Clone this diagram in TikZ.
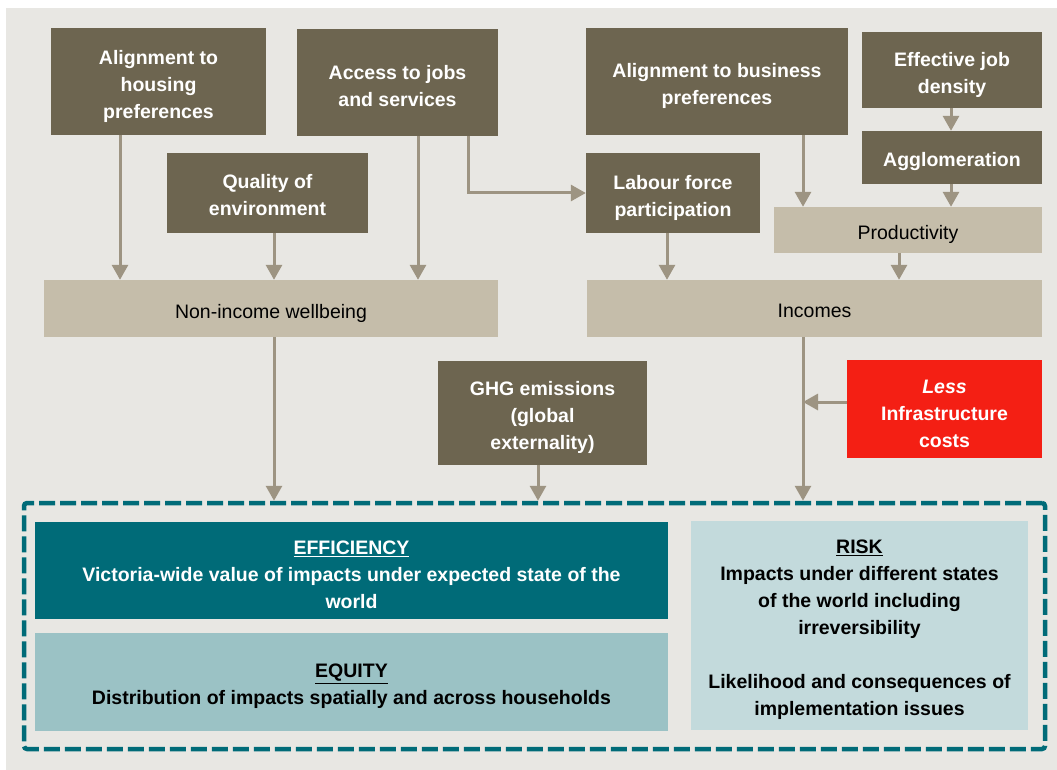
\documentclass[tikz,border=0pt]{standalone}
\usepackage{fontspec}
\setmainfont{Liberation Sans}
\usetikzlibrary{arrows.meta}

\definecolor{bgcol}{HTML}{E8E7E3}
\definecolor{darkbox}{HTML}{6D6550}
\definecolor{lightbox}{HTML}{C5BDAA}
\definecolor{arrowcol}{HTML}{9D9482}
\definecolor{redbox}{HTML}{F41F14}
\definecolor{tealcol}{HTML}{006B78}
\definecolor{equitycol}{HTML}{9BC2C5}
\definecolor{riskcol}{HTML}{C3DADC}

\tikzset{
  % box shapes
  boxbase/.style={inner sep=0pt},
  darknode/.style={boxbase, fill=darkbox},
  lightnode/.style={boxbase, fill=lightbox},
  rednode/.style={boxbase, fill=redbox},
  effnode/.style={boxbase, fill=tealcol},
  eqnode/.style={boxbase, fill=equitycol},
  risknode/.style={boxbase, fill=riskcol},
  % box captions, set a little below the geometric centre
  txt/.style={inner sep=0pt, align=center, yshift=-4.5pt},
  whitebold/.style={txt, text=white, font=\fontsize{19.5}{27}\selectfont\bfseries},
  blackbold/.style={txt, text=black, font=\fontsize{19.5}{27}\selectfont\bfseries},
  blackplain/.style={txt, text=black, font=\fontsize{19.5}{27}\selectfont},
  framenode/.style={draw=tealcol, line width=4.5pt, dash pattern=on 16pt off 5pt, rounded corners=3pt, inner sep=0pt},
  arr/.style={draw=arrowcol, line width=3pt, -{Triangle[width=16pt,length=15pt]}, arrowcol},
}

\begin{document}
\begin{tikzpicture}[x=1pt, y=-1pt]
  \useasboundingbox (0,0) rectangle (1057,770);
  \fill[bgcol] (6,8) rectangle (1057,770);

  % upper drivers
  \node[darknode, minimum width=215pt, minimum height=107pt,
        label={[whitebold]center:{Alignment to\\housing\\preferences}}] (housing) at (158.5,81.5) {};
  \node[darknode, minimum width=201pt, minimum height=107pt,
        label={[whitebold, yshift=1pt]center:{Access to jobs\\and services}}] (access) at (397.5,82.5) {};
  \node[darknode, minimum width=201pt, minimum height=80pt,
        label={[whitebold, yshift=2.5pt]center:{Quality of\\environment}}] (quality) at (267.5,193) {};
  \node[darknode, minimum width=262pt, minimum height=107pt,
        label={[whitebold]center:{Alignment to business\\preferences}}] (business) at (717,81.5) {};
  \node[darknode, minimum width=180pt, minimum height=76pt,
        label={[whitebold]center:{Effective job\\density}}] (density) at (952,70) {};
  \node[darknode, minimum width=180pt, minimum height=53pt,
        label={[whitebold]center:{Agglomeration}}] (agglom) at (952,157.5) {};
  \node[darknode, minimum width=174pt, minimum height=80pt,
        label={[whitebold]center:{Labour force\\participation}}] (labour) at (673,193) {};

  % intermediate outcomes
  \node[lightnode, minimum width=268pt, minimum height=46pt,
        label={[blackplain]center:{Productivity}}] (productivity) at (908,230) {};
  \node[lightnode, minimum width=454pt, minimum height=57pt,
        label={[blackplain]center:{Non-income wellbeing}}] (nonincome) at (271,308.5) {};
  \node[lightnode, minimum width=455pt, minimum height=57pt,
        label={[blackplain, yshift=2.5pt]center:{Incomes}}] (incomes) at (814.5,308.5) {};

  % other impacts
  \node[darknode, minimum width=209pt, minimum height=104pt,
        label={[whitebold]center:{GHG emissions\\(global\\externality)}}] (ghg) at (542.5,413) {};
  \node[rednode, minimum width=195pt, minimum height=98pt,
        label={[whitebold]center:{\textit{Less}\\Infrastructure\\costs}}] (less) at (944.5,409) {};

  % assessment criteria
  \node[framenode, minimum width=1021pt, minimum height=246pt] (frame) at (534.5,626) {};
  \node[effnode, minimum width=633pt, minimum height=97pt,
        label={[whitebold]center:{\underline{EFFICIENCY}\\Victoria-wide value of impacts under expected state of the\\world}}] (efficiency) at (351.5,570.5) {};
  \node[eqnode, minimum width=633pt, minimum height=98pt,
        label={[blackbold]center:{\underline{EQUITY}\\Distribution of impacts spatially and across households}}] (equity) at (351.5,682) {};
  \node[risknode, minimum width=337pt, minimum height=209pt,
        label={[blackbold]center:{\underline{RISK}\\Impacts under different states\\of the world including\\irreversibility\\[27pt]Likelihood and consequences of\\implementation issues}}] (risk) at (859.5,625.5) {};

  % connector columns
  \coordinate (c120) at (120,0);
  \coordinate (c274) at (274,0);
  \coordinate (c418) at (418,0);
  \coordinate (c468) at (468,0);
  \coordinate (c538) at (538,0);
  \coordinate (c667) at (667,0);
  \coordinate (c803) at (803,0);
  \coordinate (c899) at (899,0);
  \coordinate (c951) at (951,0);
  \coordinate (r402) at (0,402);

  % connectors
  \draw[arr] (housing.south -| c120) -- (nonincome.north -| c120);
  \draw[arr] (quality.south -| c274) -- (nonincome.north -| c274);
  \draw[arr] (access.south -| c418) -- (nonincome.north -| c418);
  \draw[arr] (access.south -| c468) |- (labour.west);
  \draw[arr] (business.south -| c803) -- (productivity.north -| c803);
  \draw[arr] (density.south -| c951) -- (agglom.north -| c951);
  \draw[arr] (agglom.south -| c951) -- (productivity.north -| c951);
  \draw[arr] (labour.south -| c667) -- (incomes.north -| c667);
  \draw[arr] (productivity.south -| c899) -- (incomes.north -| c899);
  \draw[arr] (nonincome.south -| c274) -- (frame.north -| c274);
  \draw[arr] (ghg.south -| c538) -- (frame.north -| c538);
  \draw[arr] (incomes.south -| c803) -- (frame.north -| c803);
  \draw[arr] (less.west |- r402) -- (c803 |- r402);
\end{tikzpicture}
\end{document}
